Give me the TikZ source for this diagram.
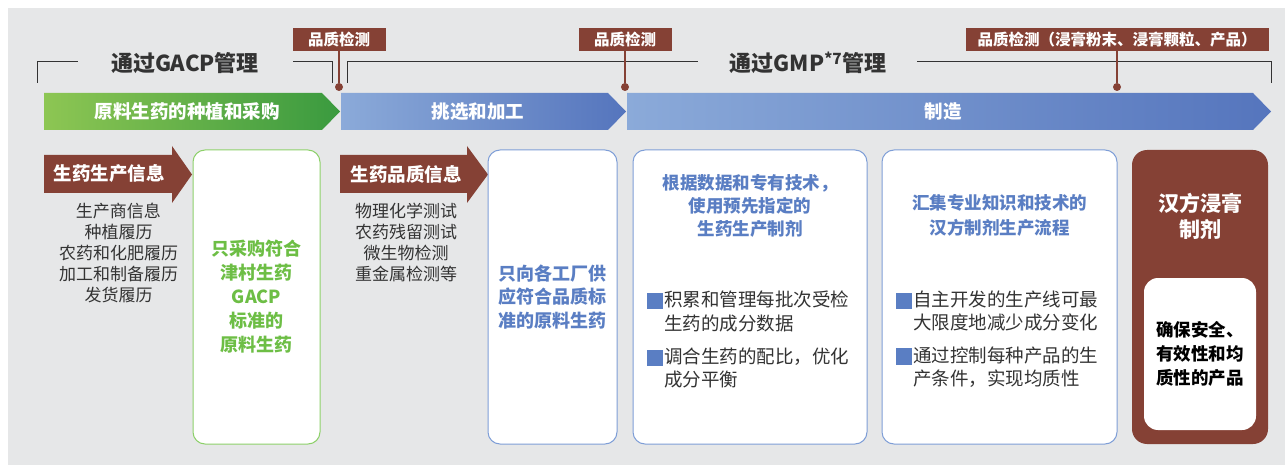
\documentclass[tikz,border=0pt]{standalone}
\usepackage{fontspec}
\setmainfont{Noto Sans CJK SC}
\usetikzlibrary{positioning}

\definecolor{bggray}{HTML}{E6E7E8}
\definecolor{tsbrown}{HTML}{854135}
\definecolor{greenA}{HTML}{8DC653}
\definecolor{greenB}{HTML}{3A9A3F}
\definecolor{blueA}{HTML}{8BAAD9}
\definecolor{blueB}{HTML}{5575BD}
\definecolor{boxblue}{HTML}{7E9ED7}
\definecolor{txtblue}{HTML}{5A7EC3}
\definecolor{boxgreen}{HTML}{8DD06A}
\definecolor{txtgreen}{HTML}{6DBE45}
\definecolor{txtgray}{HTML}{333333}

\newcommand{\tsfont}[2]{\fontsize{#1}{#2}\selectfont}
\newcommand{\tsbox}{\textcolor{txtblue}{\rule[-0.14em]{0.88em}{0.88em}}\hspace{0.04em}}
\newcommand{\tsskip}{\hphantom{\tsbox}}

\begin{document}
\begin{tikzpicture}[x=1pt, y=-1pt,
		qbox/.style = {fill=tsbrown, text=white, font=\bfseries\tsfont{15.5}{18}, minimum height=23, inner sep=0},
		dot/.style = {circle, fill=tsbrown, minimum size=8, inner sep=0},
		stem/.style = {tsbrown, line width=1.6},
		bracket/.style = {txtgray, line width=1},
		title/.style = {text=txtgray, font=\bfseries\tsfont{22}{26}},
		band/.style = {text=white, font=\bfseries\tsfont{18.5}{22}},
		list/.style = {text=txtgray, align=center, font=\tsfont{17}{21}, inner sep=0},
		panel/.style = {draw, fill=white, rounded corners=12, line width=1, minimum height=294, inner sep=0},
		head/.style = {align=center, font=\bfseries\tsfont{17.5}{23}, inner sep=0},
		bullet/.style = {text=txtgray, align=left, font=\tsfont{18.5}{23.5}, inner sep=0, anchor=west}]
		\fill[white] (0,0) rectangle (1285,465);
		\fill[bggray] (8,8) rectangle (1285,465);
		
		% management brackets
		\node[title] (gacp) at (185,63) {通过GACP管理};
		\node[title] (gmp) at (808,63) {通过GMP\textsuperscript{*7}管理};
		\draw[bracket] (37,83) |- (78,62);
		\draw[bracket] (293,62) -| (332,83);
		\draw[bracket] (347,83) |- (698,62);
		\draw[bracket] (917,62) -| (1271,83);
		
		% quality checks
		\node[qbox, minimum width=93] (q1) at (339,39.5) {品质检测};
		\node[qbox, minimum width=93] (q2) at (625,39.5) {品质检测};
		\node[qbox, minimum width=303] (q3) at (1117,39.5) {品质检测（浸膏粉末、浸膏颗粒、产品）};
		\node[dot] (d1) at (339,87) {};
		\node[dot] (d2) at (625,87) {};
		\node[dot] (d3) at (1117,87) {};
		\draw[stem] (q1) -- (d1);
		\draw[stem] (q2) -- (d2);
		\draw[stem] (q3) -- (d3);
		
		% process bands
		\shade[left color=greenA, right color=greenB] (44,93) -- (322,93) -- (340,111.5) -- (322,130) -- (44,130) -- cycle;
		\shade[left color=blueA, right color=blueB] (341,93) -- (608,93) -- (626,111.5) -- (608,130) -- (341,130) -- cycle;
		\shade[left color=blueA, right color=blueB] (627,93) -- (1253,93) -- (1271,111.5) -- (1253,130) -- (627,130) -- cycle;
		\node[band] (grow) at (187,111.5) {原料生药的种植和采购};
		\node[band] (sort) at (478,111.5) {挑选和加工};
		\node[band] (make) at (943,111.5) {制造};
		
		% information arrows
		\fill[tsbrown] (44,155) -- (172,155) -- (172,146) -- (192,174.5) -- (172,203) -- (172,193) -- (44,193) -- cycle;
		\fill[tsbrown] (340,155) -- (467,155) -- (467,146) -- (488,174.5) -- (467,203) -- (467,193) -- (340,193) -- cycle;
		\node[band] (info1) at (109,174) {生药生产信息};
		\node[band] (info2) at (406,174) {生药品质信息};
		\node[list] (list1) at (118.5,253) {生产商信息\\种植履历\\农药和化肥履历\\加工和制备履历\\发货履历};
		\node[list] (list2) at (406,242.5) {物理化学测试\\农药残留测试\\微生物检测\\重金属检测等};
		
		% panels
		\node[panel, draw=boxgreen, minimum width=127, text=txtgreen, align=center, font=\bfseries\tsfont{18}{24}] (buy) at (256.5,297) {只采购符合\\津村生药\\GACP\\标准的\\原料生药};
		\node[panel, draw=boxblue, minimum width=129, text=txtblue, align=center, font=\bfseries\tsfont{18}{23.5}] (supply) at (552.5,297) {只向各工厂供\\应符合品质标\\准的原料生药};
		
		\node[panel, draw=boxblue, minimum width=234] (data) at (750,297) {};
		\node[head, text=txtblue] (datah) at (750,206) {根据数据和专有技术，\\使用预先指定的\\生药生产制剂};
		\node[bullet] (data1) at (647,311.5) {\tsbox 积累和管理每批次受检\\\tsskip 生药的成分数据};
		\node[bullet] (data2) at (647,368) {\tsbox 调合生药的配比，优化\\\tsskip 成分平衡};
		
		\node[panel, draw=boxblue, minimum width=235] (know) at (999.5,297) {};
		\node[head, text=txtblue, font=\bfseries\tsfont{17.5}{25}] (knowh) at (999.5,215.5) {汇集专业知识和技术的\\汉方制剂生产流程};
		\node[bullet] (know1) at (896,311) {\tsbox 自主开发的生产线可最\\\tsskip 大限度地减少成分变化};
		\node[bullet] (know2) at (896,367) {\tsbox 通过控制每种产品的生\\\tsskip 产条件，实现均质性};
		
		\node[panel, draw=none, fill=tsbrown, rounded corners=15, minimum width=136] (kampo) at (1200,297) {};
		\node[head, text=white, font=\bfseries\tsfont{21}{26}] (kampoh) at (1200,216) {汉方浸膏\\制剂};
		\node[fill=white, rounded corners=14, minimum width=112, minimum height=152, inner sep=0, align=left, text=black, font=\bfseries\tsfont{17.5}{24}] (safe) at (1200,354) {确保安全、\\有效性和均\\质性的产品};
\end{tikzpicture}
\end{document}
